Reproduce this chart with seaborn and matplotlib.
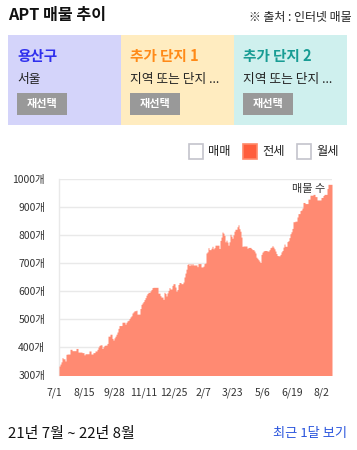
import numpy as np
import pandas as pd
import matplotlib
matplotlib.use("Agg")
import matplotlib.pyplot as plt
import matplotlib.transforms as mtransforms
from matplotlib.patches import Rectangle
import seaborn as sns

# ---------------- data ----------------
title = "APT 매물 추이"
source = "※ 출처 : 인터넷 매물"
panel_titles = ["용산구", "추가 단지 1", "추가 단지 2"]
panel_subs = ["서울", "지역 또는 단지 ...", "지역 또는 단지 ..."]
legend_labels = ["매매", "전세", "월세"]
legend_checked = [False, True, False]
y_ticks = [300, 400, 500, 600, 700, 800, 900, 1000]
y_tick_labels = ["300개", "400개", "500개", "600개", "700개", "800개", "900개", "1000개"]
x_tick_labels = ["7/1", "8/15", "9/28", "11/11", "12/25", "2/7", "3/23", "5/6", "6/19", "8/2"]
x_tick_days = [0, 45, 89, 133, 177, 221, 265, 309, 353, 397]
series_label = "매물 수"
period_text = "21년 7월 ~ 22년 8월"
link_text = "최근 1달 보기"

# 매물 수 (전세), one value per time step
counts = [
    331, 338, 346, 361, 357, 357, 349, 373, 374, 374, 374, 391, 391, 386, 386, 386,
    386, 394, 394, 381, 381, 381, 381, 379, 379, 371, 375, 375, 375, 375, 385, 385,
    374, 374, 379, 379, 385, 385, 391, 399, 405, 407, 407, 394, 400, 405, 406, 406,
    412, 438, 438, 445, 445, 430, 424, 432, 438, 445, 453, 466, 476, 476, 476, 488,
    488, 488, 481, 488, 493, 495, 501, 507, 511, 521, 525, 529, 529, 531, 517, 517,
    517, 537, 552, 557, 562, 569, 576, 585, 591, 595, 595, 600, 605, 612, 613, 613,
    613, 613, 613, 592, 592, 583, 578, 578, 570, 595, 591, 582, 593, 602, 612, 607,
    607, 620, 626, 626, 614, 599, 605, 623, 630, 630, 626, 626, 632, 650, 664, 678,
    695, 698, 691, 698, 693, 698, 693, 693, 693, 693, 687, 698, 698, 698, 686, 686,
    689, 698, 700, 736, 740, 755, 748, 748, 753, 760, 751, 755, 764, 764, 764, 764,
    752, 781, 793, 811, 807, 799, 776, 782, 775, 764, 776, 803, 796, 789, 801, 814,
    821, 821, 830, 837, 823, 814, 793, 760, 761, 761, 761, 761, 753, 756, 756, 756,
    752, 748, 748, 743, 736, 721, 717, 712, 707, 702, 731, 739, 743, 745, 745, 745,
    743, 743, 748, 755, 757, 762, 757, 751, 743, 734, 727, 726, 726, 731, 740, 745,
    757, 768, 760, 760, 777, 780, 791, 805, 812, 824, 848, 848, 850, 850, 865, 877,
    877, 888, 890, 897, 917, 917, 913, 913, 913, 929, 929, 943, 943, 943, 946, 946,
    938, 938, 926, 926, 926, 926, 935, 935, 942, 946, 946, 946, 967, 982, 982, 982,
    982,
]

# ---------------- style ----------------
sns.set_theme(style="white")
plt.rcParams["font.family"] = ["Noto Sans CJK KR", "DejaVu Sans"]

W, H = 357, 450
fig = plt.figure(figsize=(W / 100, H / 100), dpi=100)
fig.patch.set_facecolor("white")

# pixel-coordinate overlay for header/footer
bg = fig.add_axes([0, 0, 1, 1])
bg.set_xlim(0, W)
bg.set_ylim(H, 0)
bg.axis("off")

bg.text(8, 15, title, fontsize=11.6, fontweight="bold", color="#111111", va="center", ha="left")
bg.text(352, 17.5, source, fontsize=8.6, color="#222222", va="center", ha="right")

panel_colors = ["#d4d4fa", "#ffecc0", "#cff0ee"]
title_colors = ["#3030ee", "#ff8a18", "#189c94"]
panel_x = [8, 121, 234]
for i in range(3):
    x0 = panel_x[i]
    bg.add_patch(Rectangle((x0, 35), 113, 90, facecolor=panel_colors[i], edgecolor="none"))
    bg.text(x0 + 9, 56, panel_titles[i], fontsize=10.5, fontweight="bold",
            color=title_colors[i], va="center", ha="left")
    bg.text(x0 + 9, 80, panel_subs[i], fontsize=9.2, color="#222222", va="center", ha="left")
    bg.add_patch(Rectangle((x0 + 9, 93), 50, 22, facecolor="#999999", edgecolor="none"))
    bg.text(x0 + 34, 104, "재선택", fontsize=8, fontweight="bold", color="white",
            va="center", ha="center")

# legend checkboxes
box_x = [188, 242, 296]
for i in range(3):
    if legend_checked[i]:
        bg.add_patch(Rectangle((box_x[i] + 0.5, 143.5), 14.5, 15, facecolor="#ff5e3c",
                               edgecolor="#ff8a6a", linewidth=1.2))
    else:
        bg.add_patch(Rectangle((box_x[i] + 0.5, 143.5), 14.5, 15, facecolor="white",
                               edgecolor="#c4c4cc", linewidth=1.2))
    bg.text(box_x[i] + 20, 151, legend_labels[i], fontsize=8.8, color="#222222",
            va="center", ha="left")

bg.text(8, 434, period_text, fontsize=10.8, color="#111111", va="center", ha="left")
bg.text(347, 434, link_text, fontsize=9.5, color="#2a55dd", va="center", ha="right")

# ---------------- chart ----------------
ax = fig.add_axes([59 / W, 1 - 374.7 / H, 273 / W, 195.4 / H])
n = len(counts)
df = pd.DataFrame({"step": np.arange(n) + 0.5, "count": np.asarray(counts, dtype=float)})
sns.histplot(data=df, x="step", weights="count", bins=n, binrange=(0, n),
             element="step", fill=True, color="#ff8a72", alpha=1.0, linewidth=0,
             ax=ax, zorder=3)
ax.set_xlim(0, n)
ax.set_ylim(300, 1000)
ax.set_facecolor("white")
ax.set_xlabel("")
ax.set_ylabel("")

ax.set_yticks(y_ticks)
ax.set_yticklabels(y_tick_labels, fontsize=7.5, color="#333333")
ax.yaxis.grid(True, color="#e9e9e9", linewidth=1)
ax.xaxis.grid(False)
for s in ["top", "right", "bottom"]:
    ax.spines[s].set_visible(False)
ax.spines["left"].set_color("#e9e9e9")
ax.spines["left"].set_linewidth(1)

px_per_day = 0.6738
ax.set_xticks([0.2 + d * px_per_day for d in x_tick_days])
ax.set_xticklabels(x_tick_labels, fontsize=7.5, color="#333333")
ax.tick_params(axis="both", length=0)
ax.tick_params(axis="y", pad=10)
ax.tick_params(axis="x", pad=9)
offset = mtransforms.ScaledTranslation(-5 / 100, 0, fig.dpi_scale_trans)
for lab in ax.get_xticklabels():
    lab.set_transform(lab.get_transform() + offset)

ax.text(0.974, 0.95, series_label, transform=ax.transAxes, fontsize=8,
        color="#333333", ha="right", va="center", zorder=5)

fig.savefig("out.png", dpi=100, facecolor="white")
